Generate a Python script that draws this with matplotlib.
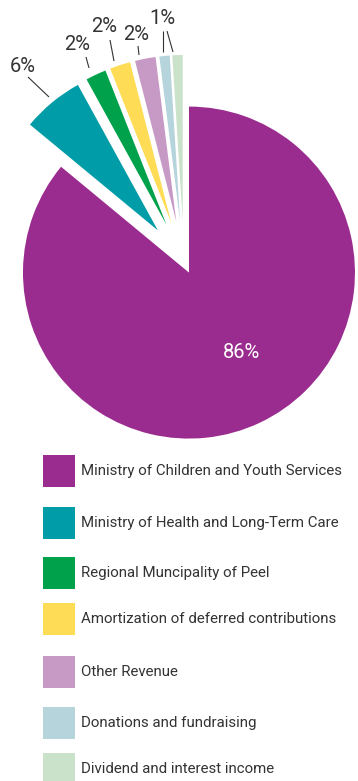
import matplotlib
matplotlib.use('Agg')
import matplotlib.pyplot as plt
from matplotlib.patches import Rectangle

categories = [
    'Ministry of Children and Youth Services',
    'Ministry of Health and Long-Term Care',
    'Regional Muncipality of Peel',
    'Amortization of deferred contributions',
    'Other Revenue',
    'Donations and fundraising',
    'Dividend and interest income',
]
values = [86, 6, 2, 2, 2, 1, 1]
pct_labels = ['86%', '6%', '2%', '2%', '2%', '1%']
colors = ['#9B2C8F', '#009CA8', '#00A14B', '#FFDC55', '#C79AC6', '#B6D4DC', '#CAE2C9']

FONT = ['Roboto', 'DejaVu Sans']
plt.rcParams['font.family'] = FONT

W, H = 358, 781
fig = plt.figure(figsize=(W / 100, H / 100), dpi=100)
ax = fig.add_axes([0, 0, 1, 1])

R = 166
cx, cy = 184, H - 262
# explode distances in data units (pixels)
explode = [11.7] + [41] * 6
wedges, _ = ax.pie(values, colors=colors, startangle=90, counterclock=False,
                   explode=explode, radius=R, center=(cx, cy),
                   wedgeprops=dict(linewidth=0), frame=True)
ax.set_xlim(0, W)
ax.set_ylim(0, H)
ax.set_aspect('auto')
ax.axis('off')

txt_col = '#333333'
# label text positions (image px) and leader lines
label_pos = [(241.5, 352), (22.5, 66), (77, 45), (104.5, 27), (136, 35), (162, 19)]
leaders = [
    [],
    [((28, 77), (49, 97))],
    [((86, 57), (89, 68))],
    [((110, 40), (114, 61))],
    [((138, 46), (139, 55))],
    [((163, 31), (163, 52)), ((167, 31), (173, 52))],
]
for i, lab in enumerate(pct_labels):
    x, y = label_pos[i]
    col = 'white' if i == 0 else txt_col
    ax.text(x, H - y, lab, ha='center', va='center', fontsize=14.5, color=col)
    for (x0, y0), (x1, y1) in leaders[i]:
        ax.plot([x0, x1], [H - y0, H - y1], color=txt_col, lw=0.8, solid_capstyle='butt')

# legend
leg_y = [471, 523, 573, 619, 672, 723, 769]
for i, cat in enumerate(categories):
    yc = leg_y[i]
    ax.add_patch(Rectangle((43, H - yc - 16), 32, 32, facecolor=colors[i], edgecolor='none'))
    ax.text(81, H - yc, cat, ha='left', va='center', fontsize=10.8, color=txt_col)

fig.savefig('out.png', dpi=100)
